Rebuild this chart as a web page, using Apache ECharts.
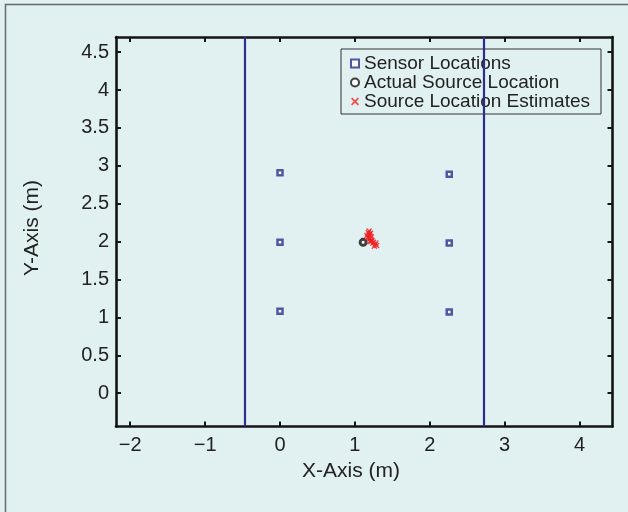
<!DOCTYPE html>
<html><head><meta charset="utf-8">
<script src="https://cdn.jsdelivr.net/npm/echarts@6/dist/echarts.min.js"></script>
<style>html,body{margin:0;padding:0;background:#e1f0f0;}#c{width:628px;height:512px;}</style>
</head><body><div id="c"></div>
<script>
const xTicks = [-2, -1, 0, 1, 2, 3, 4];
const yTicks = [0, 0.5, 1, 1.5, 2, 2.5, 3, 3.5, 4, 4.5];
const sensorLocations = [[0, 2.91], [0, 1.99], [0, 1.08], [2.26, 2.89], [2.26, 1.98], [2.26, 1.07]];
const actualSource = [[1.11, 1.99]];
const sourceEstimates = [
  [1.18, 2.12], [1.19, 2.10], [1.20, 2.08], [1.18, 2.06], [1.20, 2.04], [1.22, 2.02],
  [1.21, 2.00], [1.24, 1.98], [1.27, 1.96], [1.29, 1.95], [1.25, 1.99], [1.17, 2.05],
  [1.19, 2.14], [1.21, 2.11], [1.23, 2.01], [1.28, 1.98], [1.26, 1.94], [1.16, 2.08],
  [1.20, 2.00], [1.22, 2.06]
];
const boundaryX = [-0.47, 2.72];
const xRange = [-2.19, 4.44];
const yRange = [-0.44, 4.70];

const FONT = 'Liberation Sans';
const fmt = v => v < 0 ? '\u2212' + Math.abs(v) : String(v);
const frame = { show: true, onZero: false, lineStyle: { color: '#141414', width: 2.6 } };
const tick = (vals) => ({ show: true, inside: true, length: 5, customValues: vals, lineStyle: { color: '#141414', width: 2 } });
const cross = 'path://M0,1.5L1.5,0L5,3.5L8.5,0L10,1.5L6.5,5L10,8.5L8.5,10L5,6.5L1.5,10L0,8.5L3.5,5Z';

const chart = echarts.init(document.getElementById('c'), null, { renderer: 'canvas' });
chart.setOption({
  backgroundColor: '#e1f0f0',
  animation: false,
  grid: { left: 116, right: 15.5, top: 37, bottom: 85.5 },
  xAxis: [
    { type: 'value', min: xRange[0], max: xRange[1], position: 'bottom',
      axisLine: frame, axisTick: tick(xTicks), splitLine: { show: false },
      axisLabel: { customValues: xTicks, formatter: fmt, margin: 9, color: '#222', fontSize: 20, fontFamily: FONT } },
    { type: 'value', min: xRange[0], max: xRange[1], position: 'top',
      axisLine: frame, axisTick: tick(xTicks), splitLine: { show: false }, axisLabel: { show: false } }
  ],
  yAxis: [
    { type: 'value', min: yRange[0], max: yRange[1], position: 'left',
      axisLine: frame, axisTick: tick(yTicks), splitLine: { show: false },
      axisLabel: { customValues: yTicks, formatter: fmt, margin: 7, color: '#222', fontSize: 20, fontFamily: FONT } },
    { type: 'value', min: yRange[0], max: yRange[1], position: 'right',
      axisLine: frame, axisTick: tick(yTicks), splitLine: { show: false }, axisLabel: { show: false } }
  ],
  legend: {
    orient: 'vertical', left: 341, top: 49,
    padding: [5, 11, 3, 9], itemGap: 0, itemWidth: 8, itemHeight: 8,
    backgroundColor: '#e1f0f0', borderColor: '#333', borderWidth: 1,
    textStyle: { fontSize: 19, lineHeight: 18, color: '#222', fontFamily: FONT },
    data: ['Sensor Locations', 'Actual Source Location', 'Source Location Estimates']
  },
  series: [
    { name: 'Sensor Locations', type: 'scatter', data: sensorLocations, symbol: 'rect', symbolSize: 5,
      itemStyle: { color: '#ffffff', borderColor: '#2a2e8c', borderWidth: 2.5 }, z: 5,
      markLine: { silent: true, symbol: 'none', label: { show: false },
        lineStyle: { color: '#2a2e8c', width: 2.2, type: 'solid' },
        data: boundaryX.map(v => ({ xAxis: v })) } },
    { name: 'Actual Source Location', type: 'scatter', data: actualSource, symbol: 'circle', symbolSize: 6,
      itemStyle: { color: '#ffffff', borderColor: '#111', borderWidth: 3 }, z: 6 },
    { name: 'Source Location Estimates', type: 'scatter', data: sourceEstimates, symbol: cross, symbolSize: 6,
      itemStyle: { color: '#f02020' }, z: 7 }
  ],
  graphic: [
    { type: 'rect', shape: { x: 5.5, y: 4.5, width: 640, height: 520 },
      style: { fill: 'none', stroke: '#6a6a6a', lineWidth: 1.5 }, silent: true },
    { type: 'text', x: 351, y: 471, style: { text: 'X-Axis (m)', fontSize: 21, fontFamily: FONT, fill: '#222', align: 'center', verticalAlign: 'middle' } },
    { type: 'text', x: 32, y: 228, rotation: Math.PI / 2, style: { text: 'Y-Axis (m)', fontSize: 21, fontFamily: FONT, fill: '#222', align: 'center', verticalAlign: 'middle' } }
  ]
});
</script></body></html>
